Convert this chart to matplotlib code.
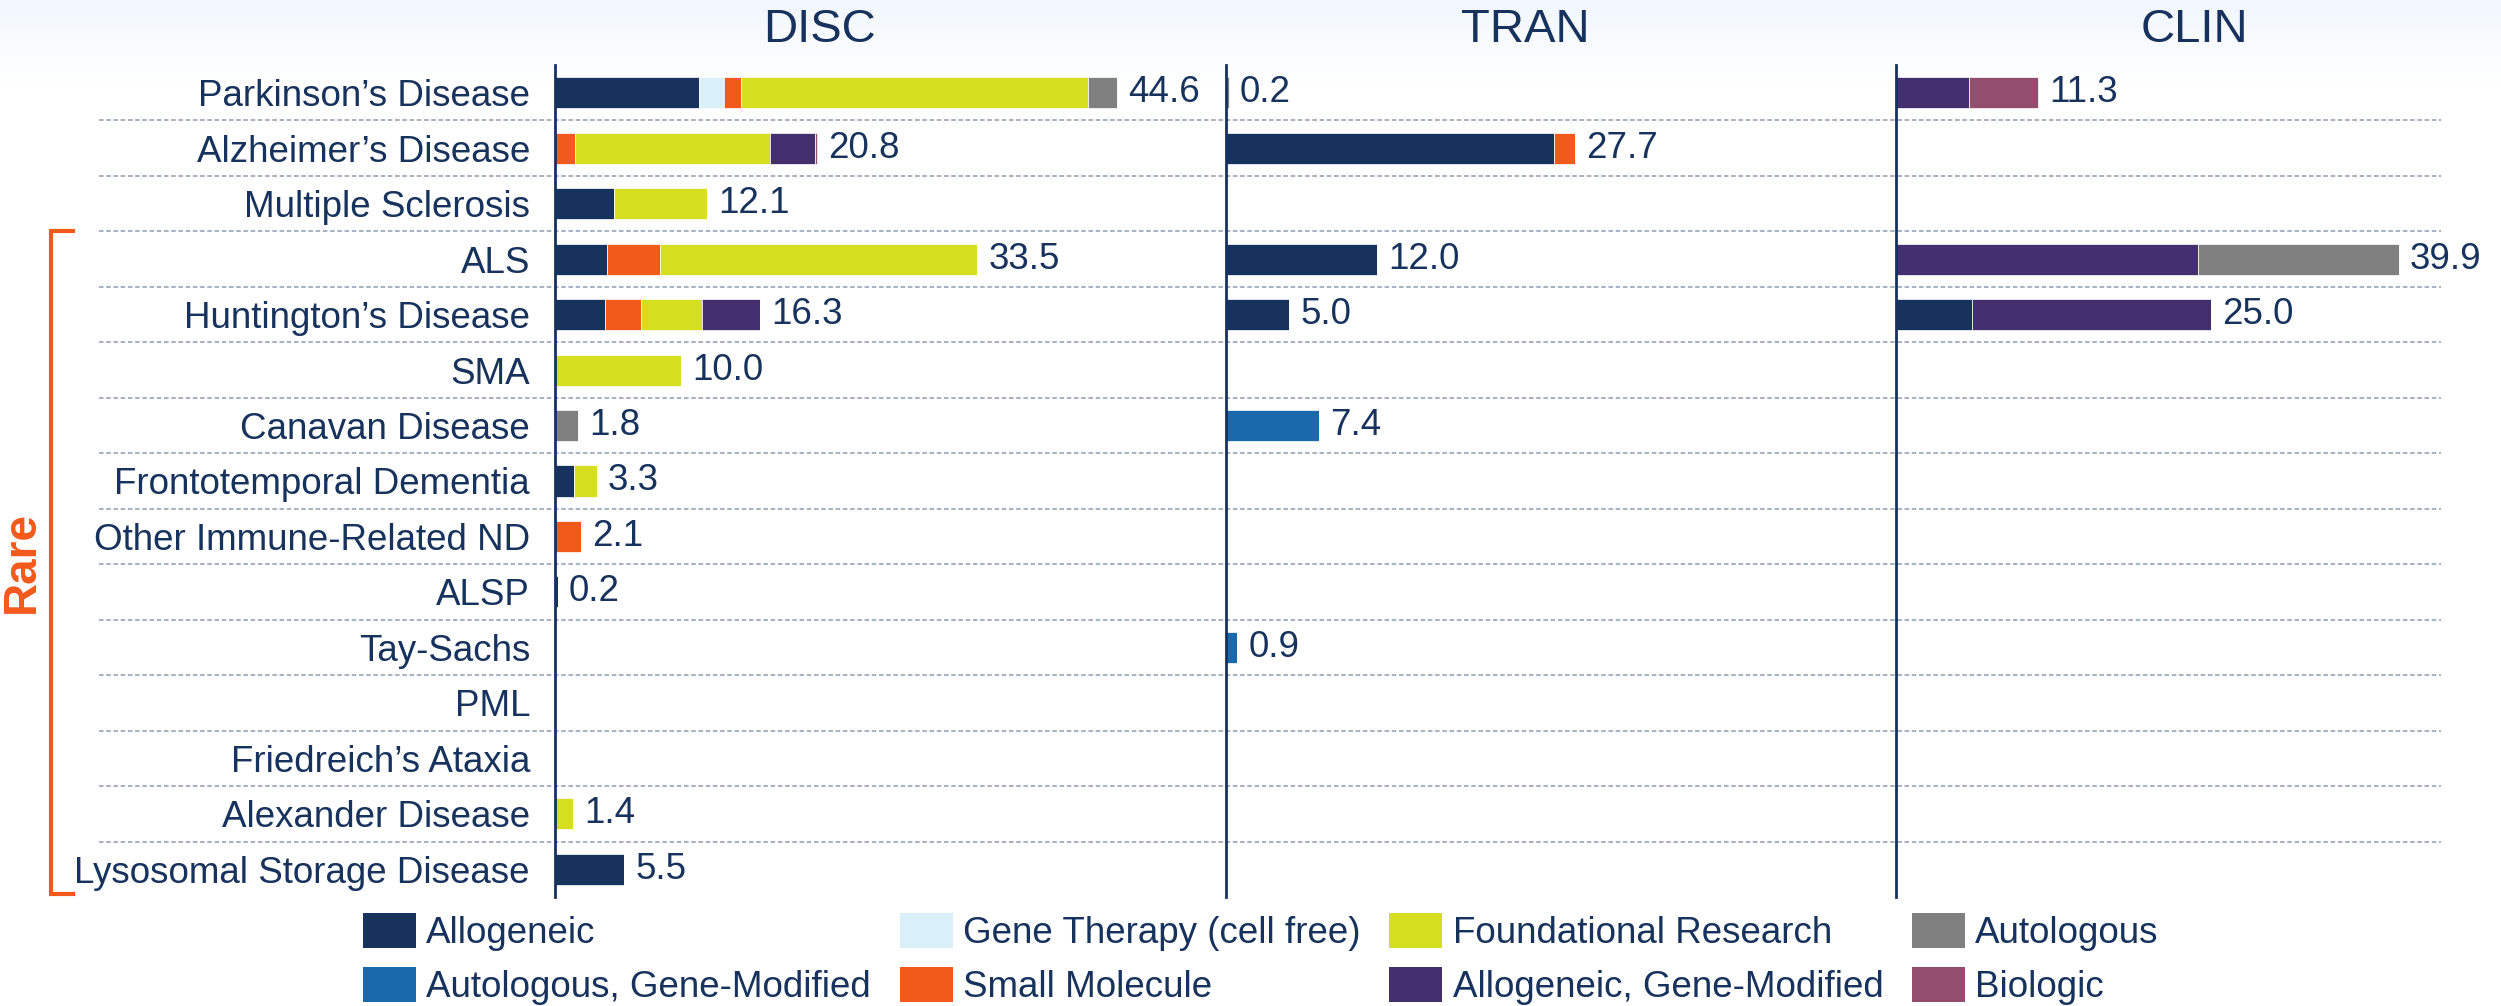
import numpy as np
import matplotlib.pyplot as plt
import matplotlib.transforms as mtransforms
from matplotlib.patches import Patch
from matplotlib.lines import Line2D
from matplotlib.colors import LinearSegmentedColormap

plt.rcParams['font.family'] = ['Liberation Sans', 'DejaVu Sans']

navy = '#17325c'
orange = '#f25a1b'

diseases = ['Parkinson\u2019s Disease', 'Alzheimer\u2019s Disease', 'Multiple Sclerosis', 'ALS',
            'Huntington\u2019s Disease', 'SMA', 'Canavan Disease', 'Frontotemporal Dementia',
            'Other Immune-Related ND', 'ALSP', 'Tay-Sachs', 'PML', 'Friedreich\u2019s Ataxia',
            'Alexander Disease', 'Lysosomal Storage Disease']
stages = ['DISC', 'TRAN', 'CLIN']
types = ['Allogeneic', 'Autologous, Gene-Modified', 'Gene Therapy (cell free)', 'Small Molecule',
         'Foundational Research', 'Allogeneic, Gene-Modified', 'Autologous', 'Biologic']
type_colors = ['#17325c', '#1a6aab', '#d9eff9', '#f25a1b', '#d6df1f', '#432e6e', '#808080', '#934d6e']

# DISC
disc_allogeneic = [11.4, 0, 4.7, 4.1, 4.0, 0, 0, 1.5, 0, 0.2, 0, 0, 0, 0, 5.5]
disc_gene_therapy = [2.0, 0, 0, 0, 0, 0, 0, 0, 0, 0, 0, 0, 0, 0, 0]
disc_small_molecule = [1.4, 1.6, 0, 4.2, 2.8, 0, 0, 0, 2.1, 0, 0, 0, 0, 0, 0]
disc_foundational = [27.5, 15.5, 7.4, 25.2, 4.9, 10.0, 0, 1.8, 0, 0, 0, 0, 0, 1.4, 0]
disc_allo_gm = [0, 3.5, 0, 0, 4.6, 0, 0, 0, 0, 0, 0, 0, 0, 0, 0]
disc_autologous = [2.3, 0, 0, 0, 0, 0, 1.8, 0, 0, 0, 0, 0, 0, 0, 0]
disc_biologic = [0, 0.2, 0, 0, 0, 0, 0, 0, 0, 0, 0, 0, 0, 0, 0]

# TRAN
tran_allogeneic = [0, 26.0, 0, 12.0, 5.0, 0, 0, 0, 0, 0, 0, 0, 0, 0, 0]
tran_auto_gm = [0, 0, 0, 0, 0, 0, 7.4, 0, 0, 0, 0.9, 0, 0, 0, 0]
tran_small_molecule = [0, 1.7, 0, 0, 0, 0, 0, 0, 0, 0, 0, 0, 0, 0, 0]
tran_autologous = [0.2, 0, 0, 0, 0, 0, 0, 0, 0, 0, 0, 0, 0, 0, 0]

# CLIN
clin_allogeneic = [0, 0, 0, 0, 6.0, 0, 0, 0, 0, 0, 0, 0, 0, 0, 0]
clin_allo_gm = [5.8, 0, 0, 24.0, 19.0, 0, 0, 0, 0, 0, 0, 0, 0, 0, 0]
clin_autologous = [0, 0, 0, 15.9, 0, 0, 0, 0, 0, 0, 0, 0, 0, 0, 0]
clin_biologic = [5.5, 0, 0, 0, 0, 0, 0, 0, 0, 0, 0, 0, 0, 0, 0]

panels = {
    'DISC': {'Allogeneic': disc_allogeneic, 'Gene Therapy (cell free)': disc_gene_therapy,
             'Small Molecule': disc_small_molecule, 'Foundational Research': disc_foundational,
             'Allogeneic, Gene-Modified': disc_allo_gm, 'Autologous': disc_autologous,
             'Biologic': disc_biologic},
    'TRAN': {'Allogeneic': tran_allogeneic, 'Autologous, Gene-Modified': tran_auto_gm,
             'Small Molecule': tran_small_molecule, 'Autologous': tran_autologous},
    'CLIN': {'Allogeneic': clin_allogeneic, 'Allogeneic, Gene-Modified': clin_allo_gm,
             'Autologous': clin_autologous, 'Biologic': clin_biologic},
}

W, H = 2501, 1006
fig = plt.figure(figsize=(W / 100, H / 100), dpi=100)

# faint blue wash at the top
bg = fig.add_axes([0, 0, 1, 1], zorder=-10)
yy = np.linspace(1, 0, 400)[:, None]
grad = np.clip((yy - 0.92) / 0.08, 0, 1) * np.ones((1, 2))
cmap = LinearSegmentedColormap.from_list('wash', ['#ffffff', '#f1f7fd'])
bg.imshow(grad, extent=[0, 1, 0, 1], aspect='auto', cmap=cmap, vmin=0, vmax=1)
bg.axis('off')

bottom = 1 - 897 / H
height = (897 - 65) / H
n = len(diseases)
y = np.arange(n)
px_per_unit = 12.6

# dashed row separators across the whole chart
gx = fig.add_axes([99 / W, bottom, (2441 - 99) / W, height])
gx.set_ylim(n - 0.5, -0.5)
gx.set_xlim(0, 1)
for k in range(n - 1):
    gx.axhline(k + 0.5, color='#9eaabd', lw=1.3, ls=(0, (2.5, 1.5)))
gx.axis('off')

panel_x = [(555, 1226), (1226, 1896), (1896, 2441)]
title_x = [820, 1525, 2194]

for i, stage in enumerate(stages):
    x0, x1 = panel_x[i]
    ax = fig.add_axes([x0 / W, bottom, (x1 - x0) / W, height])
    ax.set_facecolor('none')
    data = panels[stage]
    left = np.zeros(n)
    for t, c in zip(types, type_colors):
        if t not in data:
            continue
        vals = np.array(data[t], dtype=float)
        ax.barh(y, vals, left=left, height=0.56, color=c, edgecolor='white', linewidth=0.5)
        left += vals
    for k in range(n):
        if left[k] > 0:
            ax.annotate(f'{left[k]:.1f}', (left[k], k), xytext=(8, 0), textcoords='offset points',
                        va='center', ha='left', fontsize=26.5, color=navy)
    ax.set_xlim(0, (x1 - x0) / px_per_unit)
    ax.set_ylim(n - 0.5, -0.5)
    ax.set_xticks([])
    for s in ['top', 'right', 'bottom']:
        ax.spines[s].set_visible(False)
    ax.spines['left'].set_color(navy)
    ax.spines['left'].set_linewidth(2)
    if i == 0:
        ax.set_yticks(y)
        ax.set_yticklabels(diseases, fontsize=26.5, color=navy)
        ax.tick_params(axis='y', length=0, pad=18)
    else:
        ax.set_yticks([])
    fig.text(title_x[i] / W, 1 - 30 / H, stage, ha='center', va='center', fontsize=34, color=navy)

# "Rare" bracket
trans = mtransforms.blended_transform_factory(fig.transFigure, gx.transData)
bx0, bx1 = 51 / W, 73 / W
fig.add_artist(Line2D([bx1, bx0, bx0, bx1], [2.5, 2.5, 14.45, 14.45], transform=trans,
                      color=orange, lw=3, solid_joinstyle='miter'))
fig.text(22 / W, 1 - 562 / H, 'Rare', rotation=90, ha='center', va='center',
         fontsize=33, fontweight='bold', color=orange)

handles = [Patch(facecolor=c, edgecolor='none') for c in type_colors]
fig.legend(handles, types, ncol=4, loc='upper left', bbox_to_anchor=(363 / W, 1 - 913 / H),
           frameon=False, fontsize=26.5, labelcolor=navy, handlelength=1.44, handleheight=1.09,
           handletextpad=0.28, columnspacing=0.78, labelspacing=0.42, borderpad=0, borderaxespad=0)

fig.savefig('out.png', dpi=100)
